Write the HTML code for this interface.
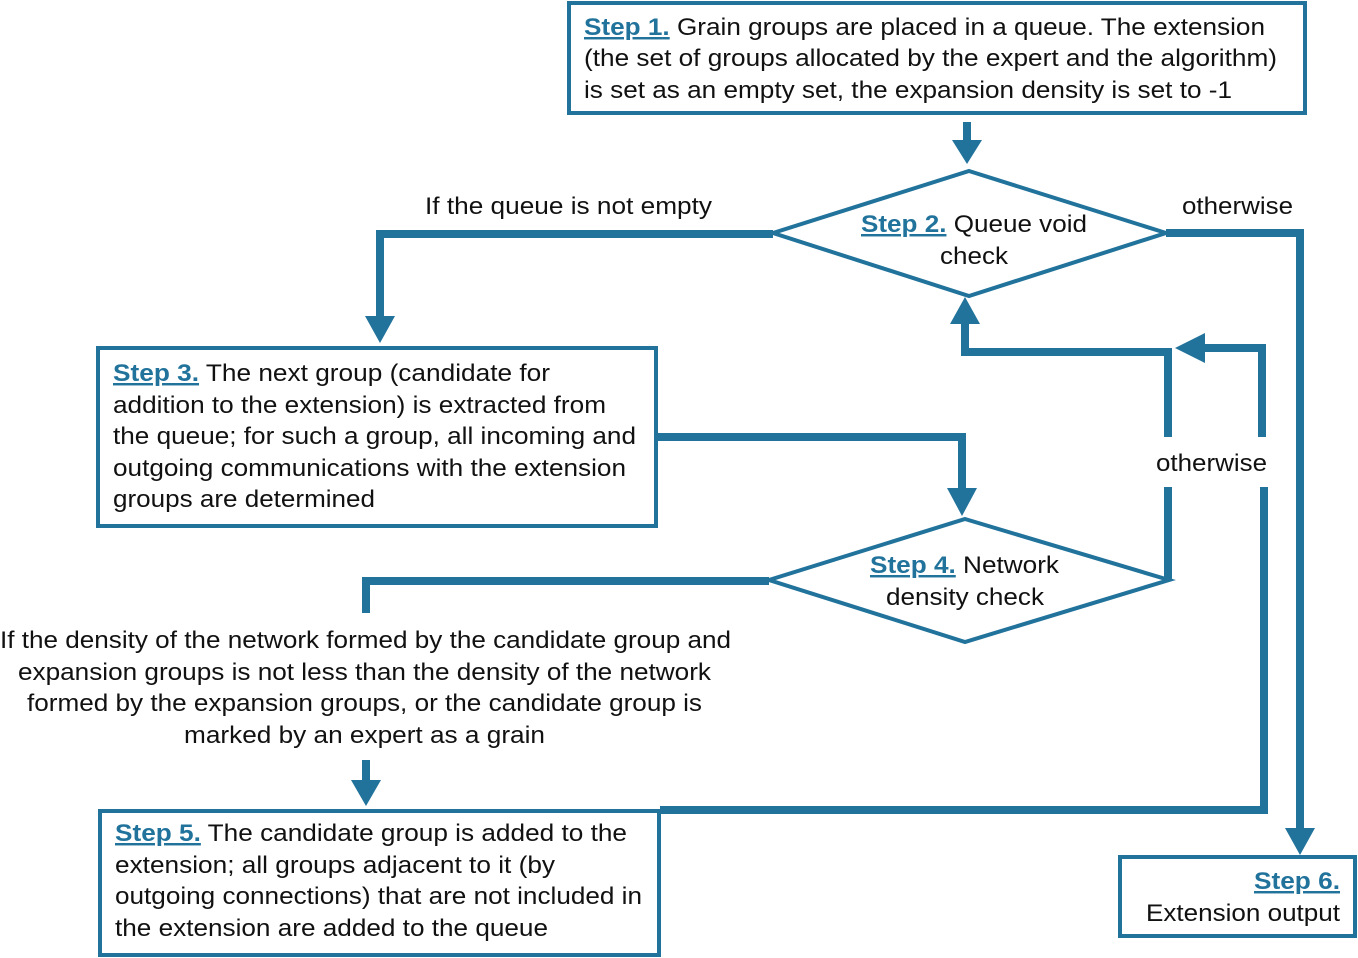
<!DOCTYPE html>
<html><head><style>
html,body{margin:0;padding:0;background:#fff;}
svg{display:block;}
text{font-family:"Liberation Sans",Arial,sans-serif;font-size:24.5px;fill:#111;}
.s{fill:#21739c;font-weight:bold;text-decoration:underline;}
</style></head><body>
<svg width="1358" height="958" viewBox="0 0 1358 958" xmlns="http://www.w3.org/2000/svg">
<g fill="none" stroke="#21739c">
<rect x="569" y="3" width="736" height="110" stroke-width="4"/>
<rect x="98" y="348" width="558" height="178" stroke-width="4"/>
<rect x="100" y="811" width="559" height="144" stroke-width="4"/>
<rect x="1120" y="857" width="235" height="79" stroke-width="4"/>
<polygon points="969,171 1166,233 969,296 773,233" stroke-width="4" fill="#fff"/>
<polygon points="965,519 1169,580 965,642 769,580" stroke-width="4" fill="#fff"/>
<g stroke-width="8" stroke-linejoin="miter">
<line x1="967" y1="122" x2="967" y2="142"/>
<polyline points="773,234 380,234 380,318"/>
<polyline points="1166,233 1300,233 1300,830"/>
<polyline points="657,437 962,437 962,490"/>
<polyline points="769,581 366,581 366,613"/>
<polyline points="1168,580 1168,487"/>
<polyline points="1168,437 1168,352 965,352 965,322"/>
<polyline points="660,810 1264,810 1264,487"/>
<polyline points="1262,437 1262,348 1203,348"/>
<line x1="366" y1="760" x2="366" y2="782"/>
</g>
</g>
<g fill="#21739c">
<polygon points="952,140 982,140 967,164"/>
<polygon points="365,316 395,316 380,343"/>
<polygon points="1285,828 1315,828 1300,855"/>
<polygon points="947,488 977,488 962,516"/>
<polygon points="950,324 980,324 965,297"/>
<polygon points="1205,333 1205,363 1175,348"/>
<polygon points="351,780 381,780 366,806"/>
</g>
<g lengthAdjust="spacingAndGlyphs">
<text x="584" y="35" textLength="681" lengthAdjust="spacingAndGlyphs"><tspan class="s">Step 1</tspan><tspan class="s" text-decoration="none">.</tspan> Grain groups are placed in a queue. The extension</text>
<text x="584" y="66" textLength="693" lengthAdjust="spacingAndGlyphs">(the set of groups allocated by the expert and the algorithm)</text>
<text x="584" y="98" textLength="648" lengthAdjust="spacingAndGlyphs">is set as an empty set, the expansion density is set to -1</text>
<text x="861" y="232" textLength="226" lengthAdjust="spacingAndGlyphs"><tspan class="s">Step 2.</tspan> Queue void</text>
<text x="940" y="264" textLength="68" lengthAdjust="spacingAndGlyphs">check</text>
<text x="425" y="214" textLength="287" lengthAdjust="spacingAndGlyphs">If the queue is not empty</text>
<text x="1182" y="214" textLength="111" lengthAdjust="spacingAndGlyphs">otherwise</text>
<text x="1156" y="471" textLength="111" lengthAdjust="spacingAndGlyphs">otherwise</text>
<text x="113" y="381" textLength="437" lengthAdjust="spacingAndGlyphs"><tspan class="s">Step 3.</tspan> The next group (candidate for</text>
<text x="113" y="413" textLength="493" lengthAdjust="spacingAndGlyphs">addition to the extension) is extracted from</text>
<text x="113" y="444" textLength="523" lengthAdjust="spacingAndGlyphs">the queue; for such a group, all incoming and</text>
<text x="113" y="476" textLength="513" lengthAdjust="spacingAndGlyphs">outgoing communications with the extension</text>
<text x="113" y="507" textLength="262" lengthAdjust="spacingAndGlyphs">groups are determined</text>
<text x="870" y="573" textLength="189" lengthAdjust="spacingAndGlyphs"><tspan class="s">Step 4</tspan><tspan class="s" text-decoration="none">.</tspan> Network</text>
<text x="886" y="605" textLength="158" lengthAdjust="spacingAndGlyphs">density check</text>
<text x="0" y="648" textLength="731" lengthAdjust="spacingAndGlyphs">If the density of the network formed by the candidate group and</text>
<text x="18" y="680" textLength="693" lengthAdjust="spacingAndGlyphs">expansion groups is not less than the density of the network</text>
<text x="27" y="711" textLength="675" lengthAdjust="spacingAndGlyphs">formed by the expansion groups, or the candidate group is</text>
<text x="184" y="743" textLength="361" lengthAdjust="spacingAndGlyphs">marked by an expert as a grain</text>
<text x="115" y="841" textLength="512" lengthAdjust="spacingAndGlyphs"><tspan class="s">Step 5.</tspan> The candidate group is added to the</text>
<text x="115" y="873" textLength="440" lengthAdjust="spacingAndGlyphs">extension; all groups adjacent to it (by</text>
<text x="115" y="904" textLength="527" lengthAdjust="spacingAndGlyphs">outgoing connections) that are not included in</text>
<text x="115" y="936" textLength="433" lengthAdjust="spacingAndGlyphs">the extension are added to the queue</text>
<text x="1254" y="889" textLength="86" lengthAdjust="spacingAndGlyphs" class="s">Step 6.</text>
<text x="1146" y="921" textLength="194" lengthAdjust="spacingAndGlyphs">Extension output</text>
</g>
</svg>
</body></html>
